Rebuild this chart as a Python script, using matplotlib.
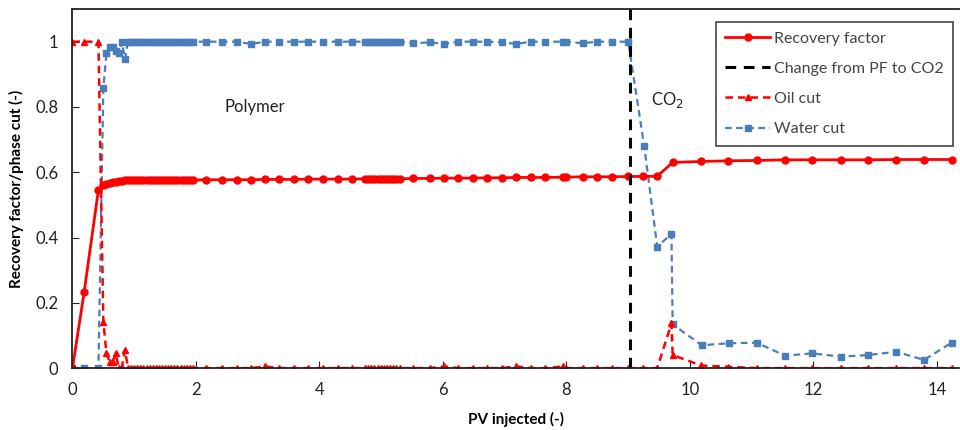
import matplotlib
matplotlib.use("Agg")
import matplotlib.pyplot as plt

plt.rcParams['font.family'] = ['Lato', 'DejaVu Sans']

# PV injected during polymer flooding (shared by all three series)
pv_polymer = [0, 0.19, 0.42,
              0.50, 0.55, 0.60, 0.65, 0.70, 0.75, 0.80, 0.85, 0.90, 0.95,
              1.00, 1.05, 1.10, 1.15, 1.20, 1.25, 1.30, 1.35, 1.40, 1.45,
              1.50, 1.55, 1.60, 1.65, 1.70, 1.75, 1.80, 1.85, 1.90, 1.95,
              2.17, 2.42, 2.66, 2.89, 3.12, 3.35, 3.59, 3.82, 4.06, 4.30, 4.52,
              4.74, 4.79, 4.84, 4.89, 4.94, 4.99, 5.04, 5.09, 5.14, 5.19, 5.24, 5.30,
              5.52, 5.79, 6.02, 6.25, 6.48, 6.72, 6.95, 7.19, 7.42, 7.65,
              7.95, 8.00, 8.26, 8.49, 8.73, 9.00]

rf_polymer = [0, 0.234, 0.546,
              0.560, 0.565, 0.567, 0.569, 0.571, 0.573, 0.574, 0.575, 0.575, 0.575,
              0.575, 0.575, 0.575, 0.575, 0.575, 0.575, 0.575, 0.575, 0.575, 0.575,
              0.575, 0.575, 0.575, 0.575, 0.576, 0.576, 0.576, 0.576, 0.576, 0.576,
              0.577, 0.577, 0.577, 0.577, 0.578, 0.578, 0.578, 0.579, 0.579, 0.579, 0.579,
              0.580, 0.580, 0.580, 0.580, 0.580, 0.580, 0.580, 0.580, 0.580, 0.580, 0.580, 0.580,
              0.581, 0.581, 0.582, 0.582, 0.582, 0.583, 0.583, 0.584, 0.584, 0.584,
              0.585, 0.585, 0.586, 0.586, 0.586, 0.587]

oil_polymer = [1, 1, 1,
               0.142, 0.045, 0.020, 0.020, 0.045, 0, 0.003, 0.055, 0, 0,
               0, 0, 0, 0, 0, 0, 0, 0, 0, 0,
               0, 0, 0, 0, 0, 0, 0, 0, 0, 0,
               0, 0, 0, 0, 0.005, 0, 0, 0, 0, 0, 0,
               0, 0, 0, 0, 0, 0, 0, 0, 0, 0, 0, 0,
               0, 0, 0.005, 0, 0, 0, 0, 0.005, 0, 0,
               0.005, 0, 0, 0, 0, 0]

water_polymer = [0, 0, 0,
                 0.858, 0.965, 0.983, 0.985, 0.970, 0.965, 1.0, 0.947, 1.0, 1.0,
                 1.0, 1.0, 1.0, 1.0, 1.0, 1.0, 1.0, 1.0, 1.0, 1.0,
                 1.0, 1.0, 1.0, 1.0, 1.0, 1.0, 1.0, 1.0, 1.0, 1.0,
                 1.0, 1.0, 1.0, 0.993, 1.0, 1.0, 1.0, 1.0, 1.0, 1.0, 1.0,
                 1.0, 1.0, 1.0, 1.0, 1.0, 1.0, 1.0, 1.0, 1.0, 1.0, 1.0, 1.0,
                 0.995, 0.998, 0.993, 1.0, 1.0, 1.0, 0.998, 0.993, 1.0, 1.0,
                 1.0, 1.0, 0.995, 1.0, 1.0, 1.0]

# CO2 injection stage
pv_rf_co2 = [9.24, 9.47, 9.72, 10.18, 10.62, 11.08, 11.54, 11.98, 12.45, 12.89, 13.34, 13.79, 14.24]
rf_co2 = [0.587, 0.588, 0.630, 0.633, 0.635, 0.636, 0.638, 0.638, 0.638, 0.638, 0.639, 0.639, 0.639]

pv_oil_co2 = [9.24, 9.47, 9.70, 9.72, 10.18, 10.62, 11.08, 11.54, 11.98, 12.45, 12.89, 13.34, 13.79, 14.24]
oil_co2 = [0, 0, 0.137, 0.040, 0.008, 0.004, 0, 0, 0, 0, 0, 0, 0, 0]

pv_water_co2 = [9.26, 9.47, 9.70, 9.72, 10.19, 10.63, 11.08, 11.54, 11.98, 12.45, 12.89, 13.34, 13.79, 14.24]
water_co2 = [0.679, 0.372, 0.411, 0.134, 0.070, 0.076, 0.078, 0.038, 0.045, 0.035, 0.040, 0.050, 0.025, 0.078]

switch_pv = 9.03

red = '#ff0000'
blue = '#4a7ebb'

fig = plt.figure(figsize=(9.6, 4.3), dpi=100)
ax = fig.add_axes([0.0755, 0.144, 0.923, 0.835])

h_water, = ax.plot(pv_polymer + pv_water_co2, water_polymer + water_co2, color=blue,
                   lw=1.6, dashes=(3, 2), marker='s', ms=4.5, label='Water cut')
h_oil, = ax.plot(pv_polymer + pv_oil_co2, oil_polymer + oil_co2, color=red,
                 lw=1.8, dashes=(3, 2), marker='^', ms=5, label='Oil cut')
h_rf, = ax.plot(pv_polymer + pv_rf_co2, rf_polymer + rf_co2, color=red,
                lw=2, marker='o', ms=5, label='Recovery factor')
h_sw = ax.axvline(switch_pv, color='black', lw=2.2, dashes=(3.5, 2.5),
                  label='Change from PF to CO2')

ax.text(2.96, 0.80, 'Polymer', fontsize=12, ha='center', va='center', color='#222222')
ax.text(9.64, 0.82, 'CO$_2$', fontsize=12, ha='center', va='center', color='#222222')

ax.set_xlim(0, 14.35)
ax.set_ylim(0, 1.1)
ax.set_xticks([0, 2, 4, 6, 8, 10, 12, 14])
ax.set_yticks([0, 0.2, 0.4, 0.6, 0.8, 1.0])
ax.set_yticklabels(['0', '0.2', '0.4', '0.6', '0.8', '1'])
ax.tick_params(direction='in', labelsize=12, colors='#222222', length=5, pad=10)
ax.spines['right'].set_visible(False)
for s in ['left', 'top', 'bottom']:
    ax.spines[s].set_color('#222222')
    ax.spines[s].set_linewidth(1.3)

ax.set_xlabel('PV injected (-)', fontsize=11, fontweight='bold', labelpad=10)
ax.set_ylabel('Recovery factor/phase cut (-)', fontsize=11, fontweight='bold', labelpad=8)

leg = ax.legend(handles=[h_rf, h_sw, h_oil, h_water], loc='upper right',
                bbox_to_anchor=(0.994, 0.964), borderaxespad=0, fontsize=11.5,
                handlelength=2.8, fancybox=False, framealpha=1, edgecolor='#444444',
                borderpad=0.6, labelspacing=1.0, handletextpad=0.25)
leg.get_frame().set_linewidth(1.2)
for t in leg.get_texts():
    t.set_color('#444444')

fig.savefig('out.png', dpi=100)
